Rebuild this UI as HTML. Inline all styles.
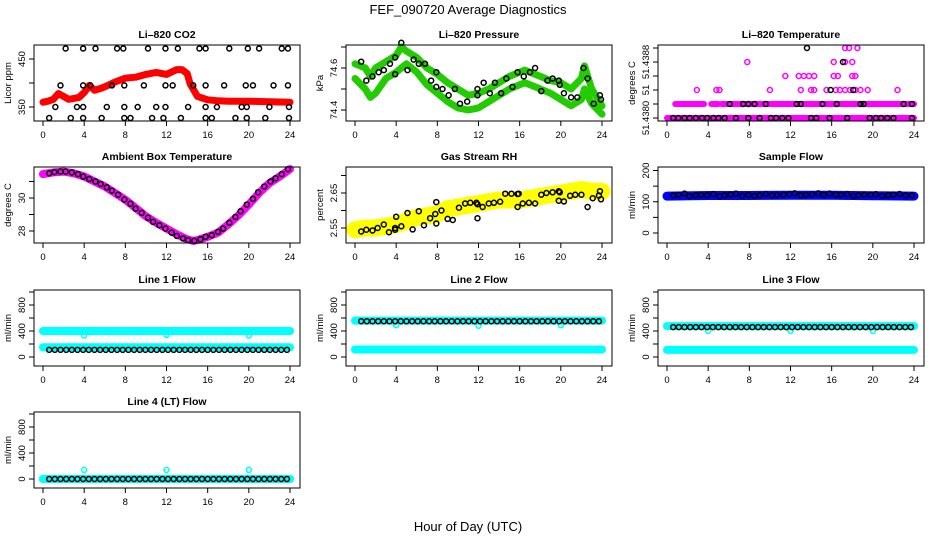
<!DOCTYPE html>
<html><head><meta charset="utf-8">
<style>
html,body{margin:0;padding:0;background:#fff}
svg{display:block}
text{font-family:"Liberation Sans",sans-serif}
</style></head>
<body>
<svg id="c" width="936" height="540" viewBox="0 0 936 540" xmlns="http://www.w3.org/2000/svg">
<rect width="936" height="540" fill="#fff"/>
<text x="468" y="14" text-anchor="middle" font-size="13">FEF_090720  Average Diagnostics</text>
<text x="468" y="531" text-anchor="middle" font-size="13">Hour of Day (UTC)</text>
</svg>
<script>
// ---- shared ----
const xTicks = [0,4,8,12,16,20,24];
// CO2
const co2BandHours = [0,0.5,1,1.5,2,2.5,3,3.5,4,4.5,5,5.5,6,7,8,9,10,11,12,13,13.5,14,14.3,15,16,17,18,20,22,24];
const co2BandValues = [360,362,366,378,372,366,368,370,380,395,385,388,392,402,410,412,418,422,418,428,428,420,398,372,365,363,362,362,361,360];
const co2PtsHours = [2.2,3.9,5.1,7.2,7.8,10.2,11.9,13.1,15.2,15.8,18.1,19.9,21,23.2,23.8, 1.7,3.9,4.6,6.7,7.9,9.8,11.9,12.6,14.6,15.8,17.6,19.7,20.4,22.4,23.8, 1.2,3.3,3.9,6.2,7.9,9.2,11.0,11.9,14.1,15.8,16.9,19.3,19.8,22.0,23.9, 0.6,2.7,3.9,5.7,7.9,8.5,10.6,11.7,13.4,15.8,16.4,18.7,19.8,21.6,23.9];
const co2PtsValues = [472,472,472,472,472,472,472,472,472,472,472,472,472,472,472, 395,395,395,395,395,395,395,395,395,395,395,395,395,395,395, 350,350,350,350,350,350,350,350,350,350,350,350,350,350,350, 327,327,327,327,327,327,327,327,327,327,327,327,327,327,327];
// Pressure
const presHours = [0,1,1.5,2,3,4,4.5,5,6,7,8,9,10,11,12,13,14,15,16,16.5,17,18,19,20,21,22,22.3,23,24];
const presUpper = [74.62,74.6,74.56,74.6,74.63,74.66,74.7,74.68,74.65,74.6,74.57,74.53,74.5,74.47,74.48,74.5,74.53,74.56,74.58,74.59,74.58,74.56,74.54,74.53,74.5,74.55,74.61,74.5,74.42];
const presLower = [74.55,74.5,74.46,74.48,74.55,74.58,74.6,74.62,74.58,74.52,74.48,74.44,74.41,74.4,74.41,74.44,74.47,74.5,74.52,74.53,74.52,74.5,74.48,74.45,74.42,74.45,74.5,74.43,74.38];
const presPtsHours = [0.6,1.1,1.7,2.3,2.8,3.4,3.9,3.9,4.5,5.1,5.7,6.2,6.8,7.4,7.9,7.9,8.5,9.1,9.7,10.2,10.9,11.9,11.9,12.5,13.1,13.6,14.2,14.7,15.3,15.8,16.4,17.0,17.5,18.1,18.7,19.2,19.8,19.9,20.3,21.0,21.6,22.2,22.6,23.2,23.8,23.9];
const presPtsValues = [74.63,74.54,74.56,74.58,74.59,74.62,74.65,74.57,74.72,74.59,74.64,74.62,74.62,74.54,74.58,74.51,74.5,74.47,74.5,74.43,74.44,74.5,74.47,74.53,74.48,74.53,74.48,74.55,74.51,74.58,74.56,74.58,74.6,74.49,74.54,74.55,74.54,74.52,74.48,74.46,74.46,74.6,74.55,74.43,74.47,74.45];
// Temperature (levels)
const tempTicks = [51.4380,51.4382,51.4384,51.4386,51.4388,51.4390];
const tempPinkHours = [2.9,4.8,5.1,10,13,14,14.3,15.5,16.4,16.8,17.3,17.8,18.3,18.8,19.5,22.4, 11.5,12.8,13.3,13.8,14.3,16.2,16.6,18,18.3, 7.8,16.2,17.3,18, 17.3,17.7,18.5];
const tempPinkValues = [51.4384,51.4384,51.4384,51.4384,51.4384,51.4384,51.4384,51.4384,51.4384,51.4384,51.4384,51.4384,51.4384,51.4384,51.4384,51.4384, 51.4386,51.4386,51.4386,51.4386,51.4386,51.4386,51.4386,51.4386,51.4386, 51.4388,51.4388,51.4388,51.4388, 51.4390,51.4390,51.4390];
const tempSegStart = [0,0.8,4.3,5.3];
const tempSegEnd = [24,3.6,5,24];
const tempSegValues = [51.4380,51.4382,51.4382,51.4382];
const tempBlkHours = [0.6,1.1,1.7,2.2,2.8,3.4,3.9,4.5,5.0,5.6,6.7,7.9,9.0,10.1,10.6,11.2,11.8,14.0,14.5,15.8,17.5,19.7,20.3,20.8,21.4,22.0,23.8, 6.1,7.4,7.9,8.5,9.6,12.6,13.0,15.1,16.5,18.8,19.1,23.0,23.8, 15.9,18.1, 17.1, 13.6];
const tempBlkValues = [51.4380,51.4380,51.4380,51.4380,51.4380,51.4380,51.4380,51.4380,51.4380,51.4380,51.4380,51.4380,51.4380,51.4380,51.4380,51.4380,51.4380,51.4380,51.4380,51.4380,51.4380,51.4380,51.4380,51.4380,51.4380,51.4380,51.4380, 51.4382,51.4382,51.4382,51.4382,51.4382,51.4382,51.4382,51.4382,51.4382,51.4382,51.4382,51.4382,51.4382, 51.4384,51.4384, 51.4388, 51.4390];
// Ambient
const ambHours = [0,1,2,3,4,5,6,7,8,9,10,11,12,13,14,14.6,15,16,17,18,19,20,21,22,23,24];
const ambValues = [31.45,31.55,31.6,31.5,31.3,31.0,30.7,30.3,29.9,29.4,28.9,28.5,28.15,27.8,27.5,27.4,27.45,27.65,27.9,28.4,28.95,29.6,30.3,30.9,31.3,31.75];
const ambPtsHours = [0.6,1.1,1.7,2.2,2.8,3.4,3.9,4.5,5.1,5.6,6.2,6.7,7.3,7.9,8.5,9.0,9.6,10.2,10.7,11.3,11.9,12.5,13.0,13.6,14.1,14.7,15.3,15.8,16.4,17.0,17.5,18.1,18.7,19.2,19.8,20.4,20.9,21.5,22.1,22.6,23.2,23.8];
const ambPtsValues = [31.5,31.57,31.6,31.6,31.55,31.45,31.3,31.15,31.0,30.85,30.65,30.45,30.2,29.9,29.65,29.35,29.1,28.8,28.55,28.35,28.15,27.9,27.7,27.55,27.45,27.4,27.5,27.65,27.75,27.95,28.15,28.5,28.85,29.2,29.6,29.95,30.35,30.7,31.0,31.2,31.45,31.75];
// Gas RH
const rhHours = [0,1,2,3,4,5,6,7,8,9,10,11,12,13,14,15,16,17,18,19,20,21,22,23,24];
const rhValues = [2.545,2.55,2.55,2.555,2.56,2.57,2.58,2.585,2.59,2.605,2.61,2.615,2.62,2.625,2.63,2.63,2.63,2.635,2.64,2.645,2.65,2.655,2.66,2.655,2.655];
const rhPtsHours = [0.6,1.1,1.7,2.2,2.8,3.3,3.9,3.9,4.0,4.5,5.1,5.6,6.2,6.7,7.3,7.8,7.9,7.9,8.4,9.0,9.5,10.1,10.7,11.2,11.8,11.9,11.9,12.4,13.0,13.5,14.1,14.6,15.2,15.8,15.8,15.9,16.3,16.9,17.5,18.1,18.6,19.2,19.8,19.8,19.9,20.3,20.9,21.4,22.0,22.6,23.1,23.8,23.9,23.7];
const rhPtsValues = [2.54,2.545,2.543,2.55,2.56,2.538,2.55,2.545,2.582,2.555,2.593,2.546,2.598,2.558,2.578,2.59,2.563,2.624,2.6,2.576,2.573,2.608,2.62,2.622,2.622,2.618,2.578,2.61,2.62,2.622,2.625,2.648,2.648,2.61,2.647,2.648,2.62,2.622,2.62,2.645,2.65,2.652,2.655,2.628,2.652,2.626,2.642,2.645,2.645,2.61,2.635,2.655,2.632,2.643];
// Sample flow
const sfHours = [0,4,8,12,16,20,24];
const sfValues = [118,120,120,121,121,119,118];
const sfPtsHours = [0.6,1.1,1.7,2.2,2.8,3.3,3.9,4.5,5.1,5.6,6.2,6.7,7.3,7.9,8.5,9.0,9.6,10.2,10.7,11.3,11.9,12.4,13.0,13.5,14.1,14.7,15.2,15.8,16.4,16.9,17.5,18.1,18.6,19.2,19.8,20.3,20.9,21.5,22.0,22.6,23.2,23.8];
const sfPtsValues = [120,122,126,118,121,122,121,125,118,121,123,126,119,122,119,121,125,120,122,123,125,127,121,122,124,127,122,126,123,122,125,119,121,123,122,124,119,121,123,125,120,121];
// Line flows
const lineNames = ["Line 1 Flow","Line 2 Flow","Line 3 Flow","Line 4 (LT) Flow"];
const lineCyanHigh = [400,560,475,0];
const lineCyanLow = [150,115,110,0];
const lineBlack = [110,550,460,0];
const lineOutlierHours = [4,12,20];
const lineOutlierValues = [[330,340,330],[490,480,490],[400,400,400],[140,140,140]];

// ---- layout ----
const svg = document.getElementById('c');
const NS = 'http://www.w3.org/2000/svg';
const colX = [34,346,658], rowY = [45,167,290,412], BW = 266, BH = 76;
function el(tag, attrs, parent){const e=document.createElementNS(NS,tag);for(const k in attrs)e.setAttribute(k,attrs[k]);(parent||svg).appendChild(e);return e;}
function txt(x,y,s,attrs,parent){const t=el('text',Object.assign({x:x,y:y},attrs),parent);t.textContent=s;return t;}

function makePanel(name, col, row, title, ylab, v0, p0, v1, p1, yTicks, yLabels){
  const L=colX[col], T=rowY[row];
  const g = el('g',{});
  
  
  const xs = h => L + 9 + h*(247/24);
  const ys = v => T + p0 + (v - v0)*(p1-p0)/(v1-v0);
  const plot = el('g',{},g);
  
  
  const box = el('rect',{x:L,y:T,width:BW,height:BH,fill:'none',stroke:'#000','stroke-width':1},g);
  
  
  const tt = txt(L+BW/2, T-7, title, {'text-anchor':'middle','font-size':10.5,'font-weight':'bold'}, g);
  
  
  const xa = el('g',{},g);
  
  
  el('line',{x1:xs(0),x2:xs(24),y1:T+BH,y2:T+BH,stroke:'#000'},xa);
  xTicks.forEach(h=>{
    el('line',{x1:xs(h),x2:xs(h),y1:T+BH,y2:T+BH+5,stroke:'#000'},xa);
    txt(xs(h), T+BH+17, String(h), {'text-anchor':'middle','font-size':9.5}, xa);
  });
  const ya = el('g',{},g);
  
  
  yTicks.forEach((v,i)=>{
    const y=ys(v);
    el('line',{x1:L-5,x2:L,y1:y,y2:y,stroke:'#000'},ya);
    if(yLabels[i]) txt(L-9, y, yLabels[i], {'text-anchor':'middle','font-size':9.5,transform:'rotate(-90 '+(L-9)+' '+y+')'}, ya);
  });
  el('line',{x1:L,x2:L,y1:ys(yTicks[0]),y2:ys(yTicks[yTicks.length-1]),stroke:'#000'},ya);
  const yl = txt(L-23, T+BH/2, ylab, {'text-anchor':'middle','font-size':9.5,transform:'rotate(-90 '+(L-23)+' '+(T+BH/2)+')'}, g);
  
  
  svg.appendChild(g);
  return {xs, ys, plot};
}
function band(p, hours, vals, color, w, nm){
  const pts = hours.map((h,i)=>p.xs(h).toFixed(1)+','+p.ys(vals[i]).toFixed(1)).join(' ');
  const e = el('polyline',{points:pts,fill:'none',stroke:color,'stroke-width':w,'stroke-linejoin':'round','stroke-linecap':'round'},p.plot);
  
  
}
function circles(p, hours, vals, color, nm, r, sw){
  hours.forEach((h,i)=>{
    const c = el('circle',{cx:p.xs(h),cy:p.ys(vals[i]),r:r||2.5,fill:'none',stroke:color,'stroke-width':sw||1.5},p.plot);
    
    
  });
}

// CO2
let p = makePanel('co2-panel',0,0,'Li\u2013820 CO2','Licor ppm',350,62,450,14,[350,400,450],['350','','450']);
band(p, co2BandHours, co2BandValues, '#ff0000', 7, 'co2-band');
circles(p, co2PtsHours, co2PtsValues, '#000', 'co2-average-point');

// Pressure
p = makePanel('pressure-panel',1,0,'Li\u2013820 Pressure','kPa',74.4,65,74.6,23,[74.4,74.5,74.6,74.7],['74.4','','74.6','']);
band(p, presHours, presUpper, '#22cc00', 7, 'pressure-band-upper');
band(p, presHours, presLower, '#22cc00', 7, 'pressure-band-lower');
circles(p, presPtsHours, presPtsValues, '#000', 'pressure-average-point');

// Temperature
p = makePanel('temperature-panel',2,0,'Li\u2013820 Temperature','degrees C',51.4380,73,51.4388,17,tempTicks,['51.4380','','51','','51.4388','']);
tempSegStart.forEach((s,i)=>{
  const e = el('line',{x1:p.xs(s),x2:p.xs(tempSegEnd[i]),y1:p.ys(tempSegValues[i]),y2:p.ys(tempSegValues[i]),stroke:'#ff00ff','stroke-width':6,'stroke-linecap':'round'},p.plot);
  
  
});
circles(p, tempPinkHours, tempPinkValues, '#ff00ff', 'temperature-point');
circles(p, tempBlkHours, tempBlkValues, '#000', 'temperature-average-point');

// Ambient
p = makePanel('ambient-panel',0,1,'Ambient Box Temperature','degrees C',28,64,30,31,[28,29,30,31],['28','','30','']);
band(p, ambHours, ambValues, '#ff00ff', 8, 'ambient-band');
circles(p, ambPtsHours, ambPtsValues, '#000', 'ambient-average-point');

// RH
p = makePanel('rh-panel',1,1,'Gas Stream RH','percent',2.55,61,2.65,26,[2.55,2.60,2.65,2.70],['2.55','','2.65','']);
band(p, rhHours, rhValues, '#ffff00', 17, 'rh-band');
circles(p, rhPtsHours, rhPtsValues, '#000', 'rh-average-point');

// Sample flow
p = makePanel('sample-flow-panel',2,1,'Sample Flow','ml/min',0,66,200,3.5,[0,50,100,150,200],['0','','100','','200']);
band(p, sfHours, sfValues, '#0000ff', 9, 'sample-flow-band');
circles(p, sfPtsHours, sfPtsValues, '#000', 'sample-flow-average-point');

// Line flows
const pos = [[0,2],[1,2],[2,2],[0,3]];
lineNames.forEach((nm,i)=>{
  const key = 'line'+(i+1)+'-flow-panel';
  const q = makePanel(key,pos[i][0],pos[i][1],nm,'ml/min',0,67,400,41,[0,200,400,600,800,1000],['0','','400','','800','']);
  band(q,[0,24],[lineCyanHigh[i],lineCyanHigh[i]],'#00ffff',8,key+'-cyan-high');
  band(q,[0,24],[lineCyanLow[i],lineCyanLow[i]],'#00ffff',8,key+'-cyan-low');
  circles(q, lineOutlierHours, lineOutlierValues[i], '#00ffff', key+'-outlier');
  const bh=[], bv=[];
  for(let h=0.6; h<24; h+=0.55){bh.push(h); bv.push(lineBlack[i]);}
  circles(q, bh, bv, '#000', key+'-average-point');
});
</script>
</body></html>
